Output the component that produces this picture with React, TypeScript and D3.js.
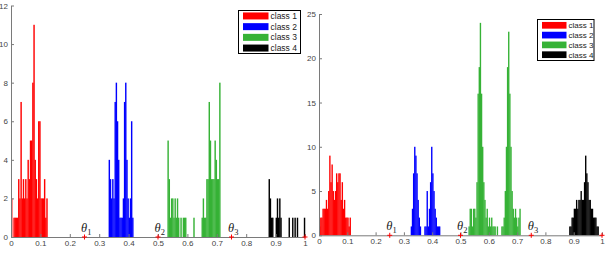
import React, { useEffect, useRef } from 'react';
import * as d3 from 'd3';

// histogram bin width (same in both panels)
const binWidth = 0.004;

const classNames = ['class 1', 'class 2', 'class 3', 'class 4'];
const classColors = ['#ff0000', '#0000ff', '#36b236', '#000000'];

const xTicks = [0, 0.1, 0.2, 0.3, 0.4, 0.5, 0.6, 0.7, 0.8, 0.9, 1];
const leftYTicks = [0, 2, 4, 6, 8, 10, 12];
const rightYTicks = [0, 5, 10, 15, 20, 25];

const thetaValues = [0.25, 0.5, 0.75];
const thetaNames = ['1', '2', '3'];
const markerValues = [0.25, 0.5, 0.75, 1];

// left panel: first bin start + counts per bin
const leftRedStart = 0;
const leftRed = [2, 0, 1, 1, 1, 1, 3, 2, 7, 2, 3, 2, 3, 2, 4, 3, 5, 5, 8, 11, 4, 3, 2, 6, 6, 2, 2, 2, 3, 1, 2];
const leftBlueStart = 0.332;
const leftBlue = [4, 3, 2, 3, 2, 7, 8, 6, 4, 1, 1, 1, 2, 7, 8, 4, 2, 1, 2, 6, 1];
const leftGreenStart = 0.532;
const leftGreen = [5, 3, 1, 2, 2, 1, 2, 1, 2, 1, 0, 1, 0, 1, 1, 1, 0, 0, 0, 0, 0, 0, 1, 0, 0, 0, 0, 0, 0, 1,
  2, 1, 1, 3, 3, 7, 5, 3, 3, 3, 5, 4, 3, 3, 8];
const leftBlackStart = 0.876;
const leftBlack = [3, 2, 1, 1, 0, 0, 1, 2, 1, 2, 1, 0, 0, 0, 0, 0, 0, 1, 0, 0, 1, 0, 1, 0, 1, 0, 0, 0, 0, 0, 1];

// right panel
const rightRedStart = 0;
const rightRed = [1, 2, 2, 3, 3, 3, 4, 3, 5, 9, 6, 8, 5, 4, 5, 7, 6, 7, 7, 4, 6, 3, 4, 2, 2, 2, 1, 2];
const rightBlueStart = 0.324;
const rightBlue = [1, 3, 7, 10, 9, 7, 4, 2, 1, 0, 0, 0, 1, 1, 5, 1, 3, 6, 10, 7, 5, 3, 2, 1, 1, 1];
const rightGreenStart = 0.528;
const rightGreen = [1, 3, 3, 1, 3, 3, 2, 6, 16, 19, 24, 16, 10, 6, 4, 2, 3, 1, 2, 1, 2, 1, 1, 1, 0, 1, 0, 0, 0, 1,
  1, 2, 5, 10, 19, 23, 16, 10, 5, 3, 2, 3, 2, 1, 2, 3];
const rightBlackStart = 0.884;
const rightBlack = [1, 1, 2, 2, 3, 3, 4, 3, 4, 4, 5, 4, 4, 6, 9, 7, 6, 4, 4, 3, 3, 2, 2, 2, 1, 1];

const panels = [
  {
    yMax: 12,
    yTicks: leftYTicks,
    series: [
      { start: leftRedStart, counts: leftRed },
      { start: leftBlueStart, counts: leftBlue },
      { start: leftGreenStart, counts: leftGreen },
      { start: leftBlackStart, counts: leftBlack },
    ],
    left: 11, right: 305, bottom: 237, top: 5.5,
    legend: { x: 238.5, y: 10.5, w: 62, h: 43, row: 10.7, sw: 25.5, sh: 7, fs: 8.5 },
  },
  {
    yMax: 25,
    yTicks: rightYTicks,
    series: [
      { start: rightRedStart, counts: rightRed },
      { start: rightBlueStart, counts: rightBlue },
      { start: rightGreenStart, counts: rightGreen },
      { start: rightBlackStart, counts: rightBlack },
    ],
    left: 319, right: 602, bottom: 235.3, top: 14,
    legend: { x: 537.5, y: 19.5, w: 56.5, h: 41, row: 9.8, sw: 24.5, sh: 6.7, fs: 8 },
  },
];

export default function App() {
  const ref = useRef<SVGSVGElement>(null);

  useEffect(() => {
    const svg = d3.select(ref.current);
    svg.selectAll('*').remove();

    panels.forEach((p) => {
      const x = d3.scaleLinear().domain([0, 1]).range([p.left, p.right]);
      const y = d3.scaleLinear().domain([0, p.yMax]).range([p.bottom, p.top]);
      const g = svg.append('g');

      // bars (slight overlap so neighbouring bins don't leave seams)
      p.series.forEach((s, si) => {
        const bins = s.counts
          .map((c, i) => ({ x0: s.start + i * binWidth, c }))
          .filter((d) => d.c > 0);
        g.append('g')
          .selectAll('rect')
          .data(bins)
          .enter()
          .append('rect')
          .attr('x', (d) => x(d.x0))
          .attr('width', x(binWidth) - x(0) + 0.25)
          .attr('y', (d) => y(d.c))
          .attr('height', (d) => y(0) - y(d.c))
          .attr('fill', classColors[si]);
      });

      // axes
      const xAxis = d3
        .axisBottom(x)
        .tickValues(xTicks)
        .tickFormat((d) => String(d))
        .tickSizeInner(-3)
        .tickSizeOuter(0)
        .tickPadding(3);
      const yAxis = d3
        .axisLeft(y)
        .tickValues(p.yTicks)
        .tickFormat((d) => String(d))
        .tickSizeInner(-3)
        .tickSizeOuter(0)
        .tickPadding(3);

      const gx = g.append('g').attr('transform', `translate(0,${p.bottom})`).call(xAxis);
      const gy = g.append('g').attr('transform', `translate(${p.left},0)`).call(yAxis);
      [gx, gy].forEach((ax) => {
        ax.select('.domain').attr('stroke', '#7a7a7a');
        ax.selectAll('.tick line').attr('stroke', '#7a7a7a');
        ax.selectAll('.tick text')
          .attr('fill', '#444')
          .style('font-family', 'Liberation Sans, Arial, sans-serif')
          .style('font-size', '8px');
      });

      // threshold markers
      g.selectAll('.mark')
        .data(markerValues)
        .enter()
        .append('path')
        .attr('d', (d) => `M${x(d) - 2.5},${p.bottom}H${x(d) + 2.5}M${x(d)},${p.bottom - 2.5}V${p.bottom + 2.5}`)
        .attr('stroke', '#ff0000')
        .attr('stroke-width', 1);

      const th = g.selectAll('.theta')
        .data(thetaValues)
        .enter()
        .append('text')
        .attr('x', (d) => x(d) - 3.5)
        .attr('y', p.bottom - 5)
        .style('font-family', 'Liberation Serif, Times New Roman, serif')
        .style('font-style', 'italic')
        .style('font-size', '12.5px')
        .attr('fill', '#222');
      th.append('tspan').text('θ');
      th.append('tspan')
        .attr('dy', 3)
        .style('font-style', 'normal')
        .style('font-size', '8.5px')
        .text((d, i) => thetaNames[i]);

      // legend
      const L = p.legend;
      const lg = g.append('g').attr('transform', `translate(${L.x},${L.y})`);
      lg.append('rect')
        .attr('width', L.w)
        .attr('height', L.h)
        .attr('fill', '#fff')
        .attr('stroke', '#000')
        .attr('stroke-width', 1);
      const items = lg.selectAll('.item')
        .data(classNames)
        .enter()
        .append('g')
        .attr('transform', (d, i) => `translate(0,${L.h / 2 + (i - 1.5) * L.row})`);
      items.append('rect')
        .attr('x', 4.5)
        .attr('y', -L.sh / 2)
        .attr('width', L.sw)
        .attr('height', L.sh)
        .attr('fill', (d, i) => classColors[i]);
      items.append('text')
        .attr('x', 4.5 + L.sw + 2)
        .attr('dy', '0.35em')
        .style('font-family', 'Liberation Sans, Arial, sans-serif')
        .style('font-size', `${L.fs}px`)
        .attr('fill', '#222')
        .text((d) => d);
    });
  }, []);

  return (
    <svg
      ref={ref}
      width={605}
      height={267}
      style={{ position: 'absolute', left: 0, top: 0, background: '#fff' }}
    />
  );
}
